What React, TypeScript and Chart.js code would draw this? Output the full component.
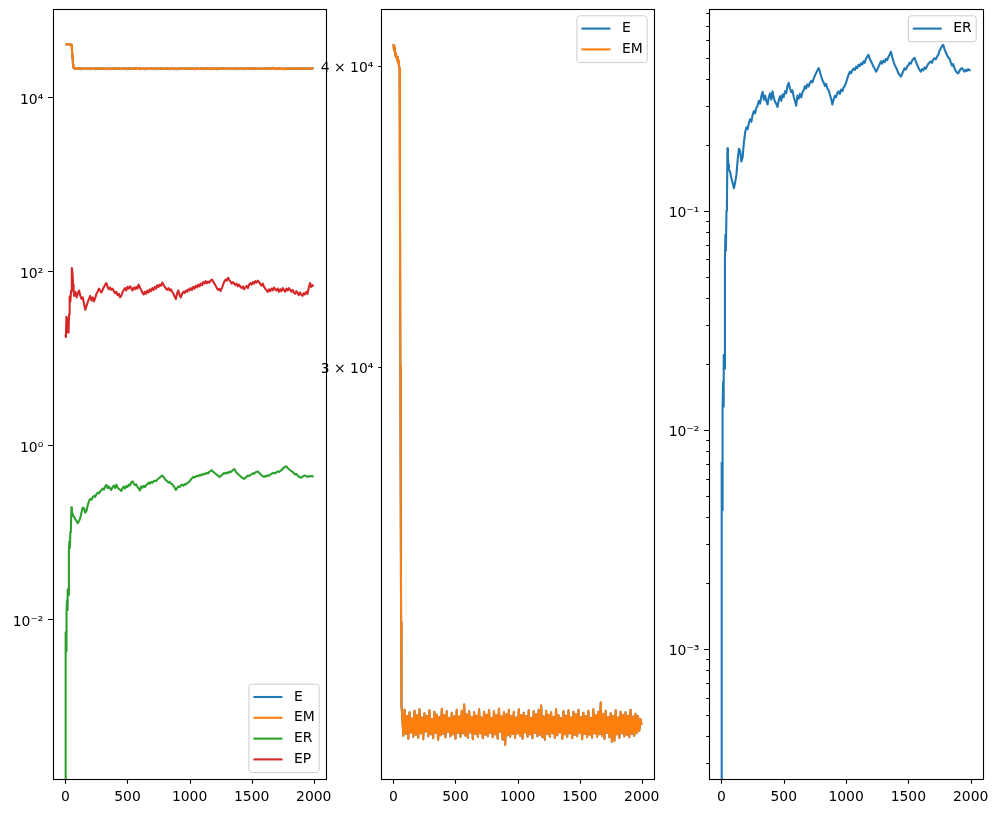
import React, { useEffect, useRef } from 'react';
import { Chart, registerables } from 'chart.js';

Chart.register(...registerables);

const FONT = "'DejaVu Sans', sans-serif";
const FS = 13.9;

const C0 = '#1f77b4';
const C1 = '#ff7f0e';
const C2 = '#2ca02c';
const C3 = '#d62728';

// sampling of the steady part of every series (time step index)
const TAIL_START = 70;
const TAIL_STEP = 10;
const LAST_X = 1999;
// non-positive values on a log axis are clipped far below the axis (like matplotlib)
const LOG_CLIP = 1e-8;

// ---- E / EM (identical) ----
const emHeadX = [0, 5, 10, 15, 20, 25, 30, 35, 40, 45, 50, 53, 56, 59, 62, 65];
const emHeadY = [40850, 40600, 40750, 40400, 40500, 40300, 40350, 40150, 40200, 40000, 39900, 35000, 30000, 26500, 23500, 21700];
const emTailY = [
  21520, 21080, 21610, 21120, 21480, 21020, 21560, 21150, 21430, 21060,
  21590, 21100, 21500, 21040, 21620, 21130, 21450, 21010, 21540, 21170,
  21480, 21070, 21600, 21110, 21420, 21030, 21570, 21140, 21510, 21000,
  21460, 21090, 21630, 21120, 21500, 21050, 21580, 21160, 21440, 21070,
  21550, 21110, 21480, 21020, 21610, 21140, 21470, 21060, 21590, 21130,
  21720, 21080, 21520, 21040, 21580, 21150, 21460, 21010, 21560, 21120,
  21490, 21060, 21620, 21130, 21450, 21030, 21570, 21100, 21510, 21070,
  21600, 21140, 21440, 21050, 21580, 21110, 21500, 21020, 21630, 21160,
  21470, 21000, 21560, 20900, 21520, 21090, 21610, 21060, 21480, 21120,
  21570, 21040, 21450, 21130, 21620, 21080, 21500, 21020, 21550, 21150,
  21480, 21060, 21600, 21110, 21440, 21030, 21580, 21140, 21520, 21070,
  21610, 21100, 21700, 21050, 21470, 21000, 21590, 21120, 21510, 21060,
  21560, 21130, 21460, 21040, 21620, 21090, 21500, 21150, 21440, 21020,
  21580, 21110, 21490, 21060, 21600, 21130, 21450, 21030, 21570, 21100,
  21520, 21070, 21610, 21140, 21460, 21010, 21550, 21120, 21480, 21050,
  21590, 21100, 21440, 21040, 21620, 21130, 21500, 21060, 21570, 21110,
  21760, 21080, 21520, 21020, 21590, 21140, 21460, 21050, 21540, 20960,
  21480, 20980, 21600, 21110, 21450, 21040, 21570, 21130, 21510, 21070,
  21560, 21100, 21490, 21050, 21610, 21120, 21470, 21080, 21530, 21140,
  21480, 21180, 21420,
];
const emLastY = 21300;

// ---- ER (first value is 0: on a log axis it runs off the bottom) ----
const erHeadX = [0, 1, 3, 5, 8, 10, 13, 16, 20, 24, 28, 32, 36, 40, 44, 48, 52, 56, 60, 65];
const erHeadY = [0, 0.00037, 0.0071, 0.0043, 0.0076, 0.0125, 0.0165, 0.0128, 0.022, 0.019, 0.06, 0.078, 0.066, 0.1, 0.106, 0.193, 0.178, 0.162, 0.155, 0.152];
const erTailY = [
  0.150, 0.141, 0.134, 0.127, 0.135, 0.146, 0.171, 0.192, 0.188, 0.168,
  0.176, 0.205, 0.228, 0.241, 0.236, 0.252, 0.262, 0.255, 0.274, 0.286,
  0.279, 0.296, 0.302, 0.318, 0.309, 0.334, 0.350, 0.322, 0.336, 0.318,
  0.306, 0.330, 0.344, 0.322, 0.352, 0.328, 0.315, 0.308, 0.298, 0.320,
  0.334, 0.318, 0.340, 0.331, 0.352, 0.345, 0.372, 0.384, 0.362, 0.348,
  0.355, 0.332, 0.318, 0.302, 0.336, 0.325, 0.342, 0.330, 0.348, 0.356,
  0.371, 0.362, 0.378, 0.370, 0.384, 0.392, 0.386, 0.402, 0.415, 0.426,
  0.438, 0.449, 0.432, 0.412, 0.396, 0.386, 0.372, 0.380, 0.362, 0.356,
  0.340, 0.325, 0.306, 0.322, 0.335, 0.330, 0.346, 0.351, 0.342, 0.358,
  0.352, 0.366, 0.372, 0.385, 0.402, 0.418, 0.432, 0.425, 0.438, 0.446,
  0.440, 0.455, 0.448, 0.465, 0.458, 0.472, 0.466, 0.482, 0.475, 0.496,
  0.505, 0.516, 0.495, 0.482, 0.470, 0.455, 0.446, 0.432, 0.440, 0.455,
  0.468, 0.482, 0.470, 0.486, 0.478, 0.495, 0.488, 0.505, 0.518, 0.533,
  0.505, 0.482, 0.465, 0.452, 0.440, 0.425, 0.418, 0.410, 0.422, 0.436,
  0.448, 0.442, 0.456, 0.462, 0.475, 0.470, 0.486, 0.494, 0.500, 0.482,
  0.466, 0.452, 0.440, 0.432, 0.444, 0.438, 0.452, 0.446, 0.458, 0.470,
  0.476, 0.482, 0.474, 0.490, 0.498, 0.492, 0.506, 0.515, 0.538, 0.552,
  0.566, 0.573, 0.548, 0.530, 0.515, 0.502, 0.496, 0.478, 0.460, 0.468,
  0.448, 0.436, 0.428, 0.424, 0.436, 0.445, 0.449, 0.440, 0.432, 0.441,
  0.435, 0.444, 0.438,
];
const erLastY = 0.442;

// ---- EP ----
const epHeadX = [0, 4, 8, 14, 21, 26, 29, 34, 40, 46, 50, 53, 57, 62, 66];
const epHeadY = [18.7, 17.5, 30, 28, 19.7, 22, 31.6, 51, 45, 60, 80, 109, 95, 70, 59];
const epTailY = [
  52, 58, 50, 56, 60, 52, 48, 50, 42, 36,
  40, 44, 48, 52, 46, 50, 45, 49, 55, 58,
  63, 60, 57, 61, 66, 70, 73, 66, 62, 65,
  61, 63, 59, 56, 58, 53, 55, 50, 52, 57,
  61, 64, 60, 66, 63, 67, 64, 60, 65, 62,
  66, 63, 70, 65, 61, 57, 54, 58, 55, 60,
  57, 62, 59, 64, 61, 66, 63, 69, 66, 70,
  68, 74, 70, 66, 63, 61, 64, 60, 62, 58,
  55, 51, 48, 56, 60, 53, 50, 55, 58, 56,
  60, 58, 62, 60, 64, 61, 66, 63, 68, 65,
  70, 67, 72, 69, 75, 72, 77, 73, 76, 74,
  78, 80, 76, 72, 68, 64, 61, 63, 59, 64,
  70, 76, 80, 78, 84, 79, 76, 72, 75, 72,
  69, 72, 67, 70, 66, 64, 67, 62, 65, 68,
  64, 70, 73, 70, 75, 72, 77, 74, 78, 75,
  71, 68, 72, 66, 63, 60, 58, 62, 59, 63,
  60, 65, 62, 60, 63, 58, 62, 59, 64, 61,
  58, 63, 60, 64, 61, 58, 61, 57, 55, 59,
  56, 53, 57, 54, 52, 56, 54, 58, 55, 64,
  73, 66, 69,
];
const epLastY = 67;

// ---- ticks ----
const xTicks = [0, 500, 1000, 1500, 2000];
const xTickLabels = ['0', '500', '1000', '1500', '2000'];

const p1Ticks = [1e-2, 1, 1e2, 1e4];
const p1Labels = ['10\u207B\u00B2', '10\u2070', '10\u00B2', '10\u2074'];

const p2Ticks = [3e4, 4e4];
const p2Labels = ['3 \u00D7 10\u2074', '4 \u00D7 10\u2074'];

const p3Ticks = [1e-3, 1e-2, 1e-1];
const p3Labels = ['10\u207B\u00B3', '10\u207B\u00B2', '10\u207B\u00B9'];
const p3MinorMant = [2, 3, 4, 5, 6, 7, 8, 9];
const p3MinorDecades = [1e-4, 1e-3, 1e-2, 1e-1];

const X_MIN = -99.95;
const X_MAX = 2098.95;

function series(hx: number[], hy: number[], ty: number[], ly: number) {
  const pts = hx.map((x, i) => ({ x, y: hy[i] }));
  ty.forEach((y, i) => pts.push({ x: TAIL_START + i * TAIL_STEP, y }));
  pts.push({ x: LAST_X, y: ly });
  return pts.map((p) => ({ x: p.x, y: p.y > 0 ? p.y : LOG_CLIP }));
}

const emPts = series(emHeadX, emHeadY, emTailY, emLastY);
const erPts = series(erHeadX, erHeadY, erTailY, erLastY);
const epPts = series(epHeadX, epHeadY, epTailY, epLastY);

const mplPlugin = {
  id: 'mpl',
  afterDraw(chart: any, _a: any, opts: any) {
    const { ctx, chartArea: a, scales } = chart;
    const xs = scales.x;
    const ys = scales.y;
    ctx.save();
    ctx.strokeStyle = '#000';
    ctx.lineWidth = 1.1;
    ctx.beginPath();
    for (const v of xTicks) {
      const px = Math.round(xs.getPixelForValue(v)) + 0.5;
      ctx.moveTo(px, a.bottom);
      ctx.lineTo(px, a.bottom + 4.86);
    }
    for (const v of opts.yMajor) {
      const py = Math.round(ys.getPixelForValue(v)) + 0.5;
      ctx.moveTo(a.left, py);
      ctx.lineTo(a.left - opts.majorLen, py);
    }
    for (const v of opts.yMinor) {
      const py = Math.round(ys.getPixelForValue(v)) + 0.5;
      ctx.moveTo(a.left, py);
      ctx.lineTo(a.left - 2.78, py);
    }
    ctx.stroke();
    ctx.strokeRect(a.left + 0.5, a.top + 0.5, a.right - a.left, a.bottom - a.top);

    // legend
    const items = chart.data.datasets.map((d: any) => ({ label: d.label, color: d.borderColor }));
    ctx.font = `${FS}px ${FONT}`;
    const textW = Math.max(...items.map((i: any) => ctx.measureText(i.label).width));
    const pad = 4.5, handle = 29, gap = 11.5, row = 20.8;
    const w = pad + handle + gap + textW + pad;
    const h = (items.length - 1) * row + 26;
    const right = a.right - 6.8;
    const top = opts.legend === 'tr' ? a.top + 6.8 : a.bottom - 6.4 - h;
    const left = right - w;
    ctx.beginPath();
    ctx.roundRect(left, top, w, h, 2.8);
    ctx.fillStyle = 'rgba(255,255,255,0.8)';
    ctx.fill();
    ctx.strokeStyle = '#cccccc';
    ctx.lineWidth = 1;
    ctx.stroke();
    items.forEach((it: any, i: number) => {
      const cy = top + 12.8 + i * row;
      ctx.strokeStyle = it.color;
      ctx.lineWidth = 2.08;
      ctx.beginPath();
      ctx.moveTo(left + pad, cy);
      ctx.lineTo(left + pad + handle, cy);
      ctx.stroke();
      ctx.fillStyle = '#000';
      ctx.textBaseline = 'middle';
      ctx.textAlign = 'left';
      ctx.fillText(it.label, left + pad + handle + gap, cy);
    });
    ctx.restore();
  },
};

type Panel = {
  datasets: { label: string; data: { x: number; y: number }[]; color: string }[];
  yMin: number;
  yMax: number;
  yTicks: number[];
  yLabels: string[];
  yMinor: number[];
  majorLen: number;
  axisWidth: number;
  padRight: number;
  legend: 'tr' | 'br';
};

function makeChart(canvas: HTMLCanvasElement, p: Panel) {
  const labelMap = new Map<number, string>();
  p.yTicks.forEach((v, i) => labelMap.set(v, p.yLabels[i]));
  const allY = [...p.yTicks, ...p.yMinor].sort((a, b) => a - b);
  return new Chart(canvas, {
    type: 'line',
    data: {
      datasets: p.datasets.map((d, i) => ({
        label: d.label,
        data: d.data,
        borderColor: d.color,
        backgroundColor: d.color,
        borderWidth: 2.08,
        pointRadius: 0,
        pointHoverRadius: 0,
        tension: 0,
        fill: false,
        borderJoinStyle: 'round',
        order: -i,
      })),
    },
    options: {
      responsive: false,
      animation: false,
      events: [],
      layout: { padding: { top: 9, right: p.padRight, left: 0, bottom: 0 } },
      plugins: {
        legend: { display: false },
        tooltip: { enabled: false },
        mpl: { yMajor: p.yTicks, yMinor: p.yMinor, majorLen: p.majorLen, legend: p.legend },
      } as any,
      scales: {
        x: {
          type: 'linear',
          min: X_MIN,
          max: X_MAX,
          afterBuildTicks: (s: any) => {
            s.ticks = xTicks.map((v) => ({ value: v }));
          },
          afterFit: (s: any) => {
            s.height = 34;
            s.paddingLeft = 0;
            s.paddingRight = 0;
            s.paddingTop = 0;
            s.paddingBottom = 0;
          },
          grid: { display: false, drawTicks: true, tickLength: 4.86 },
          border: { display: false },
          ticks: {
            autoSkip: false,
            maxRotation: 0,
            minRotation: 0,
            padding: 4.86,
            color: '#000',
            font: { family: FONT, size: FS },
            callback: (v: any) => xTickLabels[xTicks.indexOf(Number(v))] ?? '',
          },
        },
        y: {
          type: 'logarithmic',
          min: p.yMin,
          max: p.yMax,
          afterBuildTicks: (s: any) => {
            s.ticks = allY.map((v) => ({ value: v }));
          },
          afterFit: (s: any) => {
            s.width = p.axisWidth;
            s.paddingLeft = 0;
            s.paddingRight = 0;
            s.paddingTop = 0;
            s.paddingBottom = 0;
          },
          grid: { display: false, drawTicks: true, tickLength: p.majorLen },
          border: { display: false },
          ticks: {
            autoSkip: false,
            padding: 4.86,
            labelOffset: 2.8,
            color: '#000',
            font: { family: FONT, size: FS },
            callback: (v: any) => labelMap.get(Number(v)) ?? '',
          },
        },
      },
    } as any,
    plugins: [mplPlugin as any],
  });
}

const p3Minor: number[] = [];
p3MinorDecades.forEach((d) => p3MinorMant.forEach((m) => p3Minor.push(m * d)));

const P3_MIN = Math.pow(10, -3.5938);
const P3_MAX = Math.pow(10, -0.0782);

const panel1: Panel = {
  datasets: [
    { label: 'E', data: emPts, color: C0 },
    { label: 'EM', data: emPts, color: C1 },
    { label: 'ER', data: erPts, color: C2 },
    { label: 'EP', data: epPts, color: C3 },
  ],
  yMin: Math.pow(10, -3.8363),
  yMax: Math.pow(10, 5.0134),
  yTicks: p1Ticks,
  yLabels: p1Labels,
  yMinor: [],
  majorLen: 4.86,
  axisWidth: 53,
  padRight: 20,
  legend: 'br',
};

const panel2: Panel = {
  datasets: [
    { label: 'E', data: emPts, color: C0 },
    { label: 'EM', data: emPts, color: C1 },
  ],
  yMin: 20227,
  yMax: 42243,
  yTicks: p2Ticks,
  yLabels: p2Labels,
  yMinor: [],
  majorLen: 2.78,
  axisWidth: 63,
  padRight: 20,
  legend: 'tr',
};

const panel3: Panel = {
  datasets: [{ label: 'ER', data: erPts, color: C0 }],
  yMin: P3_MIN,
  yMax: P3_MAX,
  yTicks: p3Ticks,
  yLabels: p3Labels,
  yMinor: p3Minor.filter((v) => v > P3_MIN && v < P3_MAX),
  majorLen: 4.86,
  axisWidth: 49,
  padRight: 16,
  legend: 'tr',
};

export default function App() {
  const r1 = useRef<HTMLCanvasElement>(null);
  const r2 = useRef<HTMLCanvasElement>(null);
  const r3 = useRef<HTMLCanvasElement>(null);
  useEffect(() => {
    const charts = [
      makeChart(r1.current!, panel1),
      makeChart(r2.current!, panel2),
      makeChart(r3.current!, panel3),
    ];
    return () => charts.forEach((c) => c.destroy());
  }, []);
  return (
    <div style={{ position: 'fixed', left: 0, top: 0, width: 999, height: 813, background: '#fff' }}>
      <canvas ref={r1} width={346} height={813} style={{ position: 'absolute', left: 0, top: 0 }} />
      <canvas ref={r2} width={356} height={813} style={{ position: 'absolute', left: 318, top: 0 }} />
      <canvas ref={r3} width={339} height={813} style={{ position: 'absolute', left: 660, top: 0 }} />
    </div>
  );
}
